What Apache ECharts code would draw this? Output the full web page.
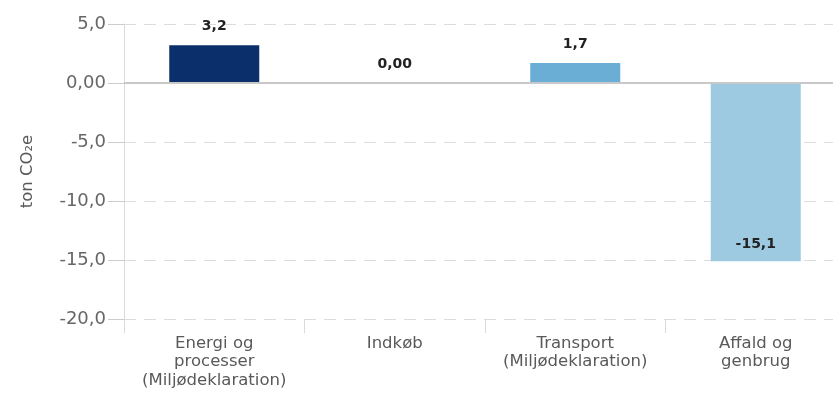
<!DOCTYPE html>
<html><head><meta charset="utf-8">
<script src="https://cdn.jsdelivr.net/npm/echarts@6/dist/echarts.min.js"></script>
<style>html,body{margin:0;padding:0;background:#fff}#c{width:833px;height:401px}</style>
</head><body><div id="c"></div>
<script>
const categories = ['Energi og\nprocesser\n(Miljødeklaration)', 'Indkøb', 'Transport\n(Miljødeklaration)', 'Affald og\ngenbrug'];
const values = [3.2, 0.0, 1.7, -15.1];
const valueLabels = ['3,2', '0,00', '1,7', '-15,1'];
const barColors = ['#0b2f6b', '#0b2f6b', '#6aaed6', '#9ecae1'];
const yTicks = { min: -20, max: 5, interval: 5 };

const FONT = 'DejaVu Sans';
const chart = echarts.init(document.getElementById('c'), null, { renderer: 'canvas' });
const fmtY = v => v === 0 ? '0,00' : v.toFixed(1).replace('.', ',');
chart.setOption({
  animation: false,
  grid: { left: 124, top: 24, width: 722, height: 295, containLabel: false, outerBoundsMode: 'none' },
  xAxis: {
    type: 'category', data: categories, position: 'bottom',
    axisLine: { show: false, onZero: false },
    axisTick: { show: true, interval: 0, length: 14, lineStyle: { color: '#d9d9d9' } },
    axisLabel: { interval: 0, hideOverlap: false, color: '#595959', fontSize: 16.5, lineHeight: 18.5, margin: 15, fontFamily: FONT }
  },
  yAxis: {
    type: 'value', min: yTicks.min, max: yTicks.max, interval: yTicks.interval,
    name: 'ton CO₂e', nameLocation: 'middle', nameGap: 88, nameRotate: 90,
    nameTextStyle: { color: '#595959', fontSize: 16.5, fontFamily: FONT },
    axisLine: { show: true, lineStyle: { color: '#d9d9d9' } },
    axisTick: { show: true, length: 16, lineStyle: { color: '#cccccc' } },
    axisLabel: { color: '#666', fontSize: 18, margin: 18, formatter: fmtY, fontFamily: FONT },
    splitLine: { show: true, lineStyle: { color: '#dcdcdc', type: [12, 8], width: 1 } }
  },
  series: [{
    type: 'bar', barWidth: 90,
    data: values.map((v, i) => ({
      value: v,
      itemStyle: { color: barColors[i] },
      label: v < 0 ? { position: 'insideBottom', distance: 10 } : { position: 'top', distance: 12 }
    })),
    label: {
      show: true, color: '#222', fontWeight: 'bold', fontSize: 14,
      fontFamily: FONT,
      formatter: p => valueLabels[p.dataIndex]
    },
    markLine: {
      silent: true, symbol: 'none', label: { show: false },
      lineStyle: { color: '#c8c8c8', type: 'solid', width: 2 },
      data: [{ yAxis: 0 }]
    }
  }]
});
</script></body></html>
